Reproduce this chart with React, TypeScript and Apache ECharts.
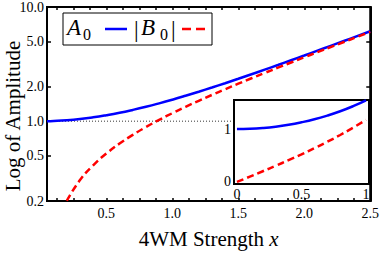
import React, { useEffect, useRef } from "react";
import * as echarts from "echarts";

const xs = [0.05, 0.1, 0.2, 0.3, 0.4, 0.5, 0.6, 0.7, 0.8, 0.9, 1.0, 1.1, 1.2, 1.3, 1.4, 1.5, 1.6, 1.7, 1.8, 1.9, 2.0, 2.1, 2.2, 2.3, 2.4, 2.5];
const a0 = [1.001, 1.005, 1.02, 1.045, 1.081, 1.128, 1.185, 1.255, 1.337, 1.433, 1.543, 1.669, 1.811, 1.971, 2.151, 2.352, 2.577, 2.828, 3.107, 3.418, 3.762, 4.144, 4.568, 5.037, 5.557, 6.132];
const xsB = [0.2, 0.3, 0.4, 0.5, 0.6, 0.7, 0.8, 0.9, 1.0, 1.1, 1.2, 1.3, 1.4, 1.5, 1.6, 1.7, 1.8, 1.9, 2.0, 2.1, 2.2, 2.3, 2.4, 2.5];
const b0 = [0.201, 0.305, 0.411, 0.521, 0.637, 0.759, 0.888, 1.027, 1.175, 1.336, 1.509, 1.698, 1.904, 2.129, 2.376, 2.646, 2.942, 3.268, 3.627, 4.022, 4.457, 4.937, 5.466, 6.05];

const insetX = [0, 0.1, 0.2, 0.3, 0.4, 0.5, 0.6, 0.7, 0.8, 0.9, 1.0];
const insetA = [1.0, 1.005, 1.02, 1.045, 1.081, 1.128, 1.185, 1.255, 1.337, 1.433, 1.543];
const insetB = [0.0, 0.1, 0.201, 0.305, 0.411, 0.521, 0.637, 0.759, 0.888, 1.027, 1.175];

const refLineX = [0.05, 1.445];
const refLineY = [1, 1];

const yTicks = [0.2, 0.5, 1, 2, 5, 10];
const xLabels = [0.5, 1.0, 1.5, 2.0, 2.5];
const xMinorTicks = [0.125, 0.25, 0.375, 0.5, 0.625, 0.75, 0.875, 1.0, 1.125, 1.25, 1.375, 1.5, 1.625, 1.75, 1.875, 2.0, 2.125, 2.25, 2.375];
const insetXLabels = [0, 0.5, 1];
const insetYLabels = [0, 1];

const FONT = "'Liberation Serif', 'Times New Roman', serif";

export default function App() {
  const ref = useRef<HTMLDivElement>(null);
  useEffect(() => {
    if (!ref.current) return;
    const chart = echarts.init(ref.current, null, { renderer: "svg" });
    const zip = (x: number[], y: number[]) => x.map((v, i) => [v, y[i]]);
    const axisLineStyle = { color: "#000", width: 2 };
    const lbl = { fontFamily: FONT, fontSize: 14, color: "#000" };
    chart.setOption({
      animation: false,
      backgroundColor: "#fff",
      textStyle: { fontFamily: FONT },
      grid: [
        { left: 47, top: 6, right: 7, bottom: 44, show: true, borderColor: "#000", borderWidth: 2, backgroundColor: "transparent" },
        { left: 234, top: 100, width: 135, height: 84, show: true, borderColor: "#000", borderWidth: 2, backgroundColor: "#fff", z: 5 },
      ],
      xAxis: [
        {
          gridIndex: 0, type: "value", min: 0.05, max: 2.5, position: "bottom",
          axisLine: { show: true, onZero: false, lineStyle: axisLineStyle },
          axisTick: { show: true, inside: true, length: 3, customValues: xMinorTicks, lineStyle: { color: "#000", width: 1.5 } },
          axisLabel: { ...lbl, customValues: xLabels, formatter: (v: number) => v.toFixed(1), margin: 5 },
          splitLine: { show: false },
          name: "4WM Strength {i|x}", nameLocation: "middle", nameGap: 27,
          nameTextStyle: { fontFamily: FONT, fontSize: 21, color: "#000", rich: { i: { fontFamily: FONT, fontSize: 21, fontStyle: "italic", color: "#000" } } },
        },
        {
          gridIndex: 0, type: "value", min: 0.05, max: 2.5, position: "top",
          axisLine: { show: true, onZero: false, lineStyle: axisLineStyle },
          axisTick: { show: true, inside: true, length: 3, customValues: xMinorTicks, lineStyle: { color: "#000", width: 1.5 } },
          axisLabel: { show: false }, splitLine: { show: false },
        },
        {
          gridIndex: 1, type: "value", min: -0.023, max: 1.023,
          axisLine: { show: true, onZero: false, lineStyle: axisLineStyle },
          axisTick: { show: false },
          axisLabel: { ...lbl, customValues: insetXLabels, formatter: (v: number) => String(v), margin: 3 },
          splitLine: { show: false }, z: 6,
        },
      ],
      yAxis: [
        {
          gridIndex: 0, type: "log", logBase: 10, min: 0.2, max: 10, position: "left",
          axisLine: { show: true, onZero: false, lineStyle: axisLineStyle },
          axisTick: { show: true, inside: true, length: 4, customValues: yTicks, lineStyle: { color: "#000", width: 1.5 } },
          axisLabel: { ...lbl, customValues: yTicks, formatter: (v: number) => v.toFixed(1), margin: 3 },
          splitLine: { show: false }, minorTick: { show: false },
        },
        {
          gridIndex: 0, type: "log", logBase: 10, min: 0.2, max: 10, position: "right",
          axisLine: { show: true, onZero: false, lineStyle: axisLineStyle },
          axisTick: { show: true, inside: true, length: 4, customValues: yTicks, lineStyle: { color: "#000", width: 1.5 } },
          axisLabel: { show: false }, splitLine: { show: false },
        },
        {
          gridIndex: 1, type: "value", min: -0.04, max: 1.55,
          axisLine: { show: true, onZero: false, lineStyle: axisLineStyle },
          axisTick: { show: false },
          axisLabel: { ...lbl, customValues: insetYLabels, formatter: (v: number) => String(v), margin: 3 },
          splitLine: { show: false }, z: 6,
        },
      ],
      series: [
        {
          type: "line", xAxisIndex: 0, yAxisIndex: 0, data: zip(refLineX, refLineY), showSymbol: false, symbol: "none",
          lineStyle: { color: "#000", width: 0.8, type: [1, 2] }, z: 1,
        },
        {
          type: "line", xAxisIndex: 0, yAxisIndex: 0, data: zip(xs, a0), smooth: true, symbol: "none",
          lineStyle: { color: "#0000ff", width: 2.5 }, z: 3,
        },
        {
          type: "line", xAxisIndex: 0, yAxisIndex: 0, data: zip(xsB, b0), smooth: true, symbol: "none",
          lineStyle: { color: "#ff0000", width: 2.5, type: [7, 4] }, z: 4,
        },
        {
          type: "line", xAxisIndex: 2, yAxisIndex: 2, data: zip(insetX, insetA), smooth: true, symbol: "none",
          lineStyle: { color: "#0000ff", width: 2.5 }, z: 7,
        },
        {
          type: "line", xAxisIndex: 2, yAxisIndex: 2, data: zip(insetX, insetB), smooth: true, symbol: "none",
          lineStyle: { color: "#ff0000", width: 2.5, type: [7, 4] }, z: 7,
        },
      ],
      graphic: [
        {
          type: "text", x: 13, y: 116, rotation: Math.PI / 2,
          style: { text: "Log of Amplitude", fontFamily: FONT, fontSize: 21, fill: "#000", align: "center", verticalAlign: "middle" },
        },
        { type: "rect", shape: { x: 63, y: 13, width: 149, height: 32 }, style: { fill: "#fff", stroke: "#000", lineWidth: 1 }, z: 10 },
        { type: "text", x: 67, y: 39, style: { text: "A", fontFamily: FONT, fontSize: 23, fontStyle: "italic", fill: "#000", verticalAlign: "bottom" }, z: 11 },
        { type: "text", x: 83, y: 42, style: { text: "0", fontFamily: FONT, fontSize: 16, fill: "#000", verticalAlign: "bottom" }, z: 11 },
        { type: "line", shape: { x1: 105, y1: 29, x2: 127, y2: 29 }, style: { stroke: "#0000ff", lineWidth: 2.5 }, z: 11 },
        { type: "text", x: 134, y: 41, style: { text: "|", fontFamily: FONT, fontSize: 23, fill: "#000", verticalAlign: "bottom" }, z: 11 },
        { type: "text", x: 141, y: 39, style: { text: "B", fontFamily: FONT, fontSize: 23, fontStyle: "italic", fill: "#000", verticalAlign: "bottom" }, z: 11 },
        { type: "text", x: 160, y: 42, style: { text: "0", fontFamily: FONT, fontSize: 16, fill: "#000", verticalAlign: "bottom" }, z: 11 },
        { type: "text", x: 171, y: 41, style: { text: "|", fontFamily: FONT, fontSize: 23, fill: "#000", verticalAlign: "bottom" }, z: 11 },
        { type: "line", shape: { x1: 182, y1: 29, x2: 206, y2: 29 }, style: { stroke: "#ff0000", lineWidth: 2.5, lineDash: [9, 5] }, z: 11 },
      ],
    });
    return () => chart.dispose();
  }, []);
  return <div ref={ref} style={{ width: 382, height: 254, position: "absolute", left: 0, top: 0 }} />;
}
